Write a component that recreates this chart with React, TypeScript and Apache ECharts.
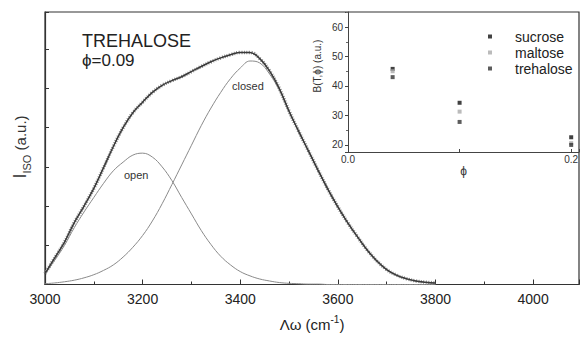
import React, { useEffect, useRef } from "react";
import * as echarts from "echarts";

// Main panel: Raman shift (cm^-1) and intensities (a.u.)
const wavenumber = [3000, 3020, 3040, 3060, 3080, 3100, 3120, 3140, 3160, 3180, 3200, 3220, 3240, 3260, 3280, 3300, 3320, 3340, 3360, 3380, 3400, 3420, 3440, 3460, 3480, 3500, 3520, 3540, 3560, 3580, 3600, 3620, 3640, 3660, 3680, 3700, 3720, 3740, 3760, 3780, 3800];
const totalIntensity = [0.28, 0.68, 1.08, 1.58, 2.0, 2.45, 2.98, 3.52, 4.0, 4.38, 4.65, 4.9, 5.08, 5.2, 5.3, 5.43, 5.56, 5.68, 5.78, 5.86, 5.92, 5.92, 5.76, 5.45, 5.0, 4.42, 3.9, 3.4, 2.9, 2.42, 1.98, 1.58, 1.22, 0.88, 0.6, 0.38, 0.24, 0.15, 0.09, 0.06, 0.04];
const closedBand = [0.02, 0.04, 0.07, 0.11, 0.17, 0.25, 0.36, 0.5, 0.7, 0.95, 1.25, 1.62, 2.06, 2.55, 3.05, 3.55, 4.05, 4.5, 4.9, 5.25, 5.52, 5.7, 5.65, 5.37, 4.96, 4.4, 3.89, 3.39, 2.89, 2.41, 1.97, 1.57, 1.21, 0.87, 0.59, 0.37, 0.23, 0.14, 0.08, 0.05, 0.03];
const openBand = [0.27, 0.62, 1.0, 1.45, 1.85, 2.22, 2.58, 2.9, 3.12, 3.3, 3.35, 3.25, 3.0, 2.65, 2.22, 1.8, 1.38, 1.02, 0.72, 0.5, 0.33, 0.22, 0.14, 0.09, 0.05, 0.03, 0.02, 0.01, 0.01, 0, 0, 0, 0, 0, 0, 0, 0, 0, 0, 0, 0];

// Inset: B(T, phi) vs phi
const phiValues = [0.04, 0.1, 0.2];
const sucroseB = [45.8, 34.3, 22.6];
const maltoseB = [45.0, 31.3, 20.6];
const trehaloseB = [43.0, 27.8, 20.0];

const FONT = "'Liberation Sans', Arial, Helvetica, sans-serif";

const zip = (xs: number[], ys: number[]) => xs.map((x, i) => [x, ys[i]]);

export default function App() {
  const ref = useRef<HTMLDivElement | null>(null);

  useEffect(() => {
    if (!ref.current) return;
    const chart = echarts.init(ref.current, null, { renderer: "svg" });
    const option: any = {
      animation: false,
      backgroundColor: "#ffffff",
      textStyle: { fontFamily: FONT },
      grid: [
        { left: 45, top: 12, right: 2, bottom: 47, show: true, borderColor: "#333", borderWidth: 1.2, backgroundColor: "transparent" },
        { left: 348, top: 12, right: 2, bottom: 185, show: false },
      ],
      xAxis: [
        {
          type: "value", gridIndex: 0, min: 3000, max: 4094, interval: 200,
          axisLine: { show: true, lineStyle: { color: "#333", width: 1.2 } },
          axisTick: { inside: true, length: 5, lineStyle: { color: "#333" } },
          minorTick: { show: true, splitNumber: 2, length: 3, lineStyle: { color: "#333" } },
          splitLine: { show: false },
          axisLabel: {
            margin: 7, fontSize: 14, color: "#222", fontFamily: FONT,
            formatter: (v: number) => (Math.abs(v % 200) < 1e-6 && v <= 4000 ? String(v) : ""),
          },
          name: "{a|Λω (cm}{b|-1}{a|)}", nameLocation: "middle", nameGap: 30,
          nameTextStyle: {
            rich: {
              a: { fontSize: 15, color: "#222", fontFamily: FONT, lineHeight: 20 },
              b: { fontSize: 10, color: "#222", fontFamily: FONT, lineHeight: 12, verticalAlign: "top" },
            },
          },
        },
        {
          type: "value", gridIndex: 1, min: 0, max: 0.207, interval: 0.1,
          axisLine: { show: true, lineStyle: { color: "#444", width: 1 } },
          axisTick: { inside: true, length: 3, lineStyle: { color: "#444" } },
          splitLine: { show: false },
          axisLabel: {
            margin: 2, fontSize: 10, color: "#333", fontFamily: FONT,
            formatter: (v: number) => (Math.abs(v) < 1e-9 ? "0.0" : Math.abs(v - 0.2) < 1e-6 ? "0.2" : ""),
          },
          name: "ϕ", nameLocation: "middle", nameGap: 12,
          nameTextStyle: { fontSize: 12, color: "#333", fontFamily: FONT },
        },
      ],
      yAxis: [
        {
          type: "value", gridIndex: 0, min: 0, max: 6.95, interval: 1,
          axisLine: { show: true, lineStyle: { color: "#333", width: 1.2 } },
          axisTick: { inside: true, length: 4, lineStyle: { color: "#333" } },
          axisLabel: { show: false },
          splitLine: { show: false },
        },
        {
          type: "value", gridIndex: 1, min: 17.6, max: 65.1, splitNumber: 5,
          axisLine: { show: true, lineStyle: { color: "#444", width: 1 } },
          axisTick: { inside: false, length: 3, lineStyle: { color: "#444" } },
          minorTick: { show: true, splitNumber: 2, length: 2, lineStyle: { color: "#666" } },
          splitLine: { show: false },
          axisLabel: {
            margin: 5, fontSize: 10, color: "#333", fontFamily: FONT,
            formatter: (v: number) => (Math.abs(v % 10) < 1e-6 ? String(v) : ""),
          },
        },
      ],
      legend: {
        orient: "vertical", left: 483, top: 24, itemWidth: 4, itemHeight: 4, itemGap: 1,
        data: ["sucrose", "maltose", "trehalose"],
        textStyle: { fontSize: 14, color: "#222", fontFamily: FONT, padding: [0, 0, 0, 18], lineHeight: 15 },
      },
      graphic: [
        { type: "text", left: 82, top: 32, style: { text: "TREHALOSE", fontSize: 18, fill: "#222", fontFamily: FONT } },
        { type: "text", left: 82, top: 52, style: { text: "ϕ=0.09", fontSize: 17, fill: "#222", fontFamily: FONT } },
        { type: "text", left: 232, top: 80, style: { text: "closed", fontSize: 11, fill: "#333", fontFamily: FONT } },
        { type: "text", left: 124, top: 169, style: { text: "open", fontSize: 11, fill: "#333", fontFamily: FONT } },
        {
          type: "text", x: 20, y: 147, rotation: Math.PI / 2,
          style: {
            text: "{a|I}{b|ISO}{c| (a.u.)}", align: "center", verticalAlign: "middle",
            rich: {
              a: { fontSize: 18, fill: "#333", fontFamily: FONT, lineHeight: 24 },
              b: { fontSize: 11, fill: "#333", fontFamily: FONT, lineHeight: 12, verticalAlign: "bottom" },
              c: { fontSize: 15, fill: "#333", fontFamily: FONT, lineHeight: 24 },
            },
          },
        },
        {
          type: "text", x: 317, y: 66, rotation: Math.PI / 2,
          style: { text: "B(T,ϕ) (a.u.)", fontSize: 10, fill: "#333", fontFamily: FONT, align: "center", verticalAlign: "middle" },
        },
      ],
      series: [
        {
          name: "open", type: "line", xAxisIndex: 0, yAxisIndex: 0, data: zip(wavenumber, openBand),
          showSymbol: false, symbol: "none", smooth: 0.4, lineStyle: { color: "#8a8a8a", width: 1 }, z: 2,
        },
        {
          name: "closed", type: "line", xAxisIndex: 0, yAxisIndex: 0, data: zip(wavenumber, closedBand),
          showSymbol: false, symbol: "none", smooth: 0.4, lineStyle: { color: "#8a8a8a", width: 1 }, z: 2,
        },
        {
          name: "data", type: "line", xAxisIndex: 0, yAxisIndex: 0, data: zip(wavenumber, totalIntensity),
          showSymbol: false, symbol: "none", smooth: 0.4, lineStyle: { color: "#888", width: 3.5, type: [1, 1.5] }, z: 3,
        },
        {
          name: "fit", type: "line", xAxisIndex: 0, yAxisIndex: 0, data: zip(wavenumber, totalIntensity),
          showSymbol: false, symbol: "none", smooth: 0.4, lineStyle: { color: "#3a3a3a", width: 1.5 }, z: 4,
        },
        {
          name: "sucrose", type: "scatter", xAxisIndex: 1, yAxisIndex: 1, data: zip(phiValues, sucroseB),
          symbol: "rect", symbolSize: 4, itemStyle: { color: "#111" }, z: 5,
        },
        {
          name: "maltose", type: "scatter", xAxisIndex: 1, yAxisIndex: 1, data: zip(phiValues, maltoseB),
          symbol: "rect", symbolSize: 4, itemStyle: { color: "#aaa" }, z: 5,
        },
        {
          name: "trehalose", type: "scatter", xAxisIndex: 1, yAxisIndex: 1, data: zip(phiValues, trehaloseB),
          symbol: "rect", symbolSize: 4, itemStyle: { color: "#333" }, z: 5,
        },
      ],
    };
    chart.setOption(option);
    return () => chart.dispose();
  }, []);

  return (
    <div
      ref={ref}
      style={{ position: "fixed", left: 0, top: 0, width: 582, height: 337, background: "#fff" }}
    />
  );
}
